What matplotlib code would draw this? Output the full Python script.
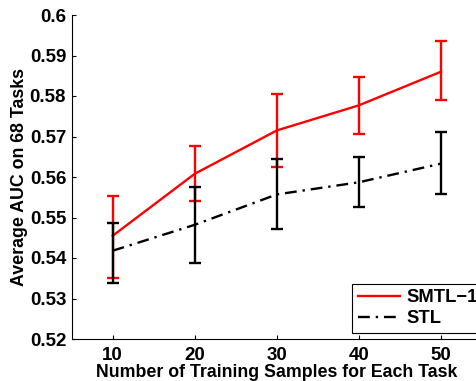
import matplotlib
matplotlib.use("Agg")
import matplotlib.pyplot as plt
import numpy as np
from matplotlib.lines import Line2D

plt.rcParams['font.family'] = ['Liberation Sans', 'DejaVu Sans']
plt.rcParams['font.weight'] = 'bold'

samples = [10, 20, 30, 40, 50]
smtl_mean = [0.5455, 0.5608, 0.5715, 0.5777, 0.5860]
smtl_low = [0.5350, 0.5540, 0.5625, 0.5707, 0.5790]
smtl_high = [0.5554, 0.5676, 0.5804, 0.5847, 0.5936]
stl_mean = [0.5418, 0.5482, 0.5557, 0.5587, 0.5633]
stl_low = [0.5338, 0.5388, 0.5472, 0.5526, 0.5557]
stl_high = [0.5486, 0.5575, 0.5645, 0.5649, 0.5710]
yticks = [0.52, 0.53, 0.54, 0.55, 0.56, 0.57, 0.58, 0.59, 0.6]
ytick_labels = ['0.52', '0.53', '0.54', '0.55', '0.56', '0.57', '0.58', '0.59', '0.6']

W, H = 476, 381
fig = plt.figure(figsize=(W / 100, H / 100), dpi=100)
ax = fig.add_axes([71.7 / W, 1 - 339 / H, (482 - 71.7) / W, (339 - 15) / H])

def errs(mean, low, high):
    m = np.array(mean)
    return np.vstack([m - np.array(low), np.array(high) - m])

dash = (0, (5, 2.5, 1, 2.5))
ax.errorbar(samples, smtl_mean, yerr=errs(smtl_mean, smtl_low, smtl_high),
            color='#ff0000', lw=1.7, elinewidth=1.7, capsize=4, capthick=1.7,
            label='SMTL\u22121', zorder=3)
ax.errorbar(samples, stl_mean, yerr=errs(stl_mean, stl_low, stl_high),
            color='black', lw=1.7, elinewidth=1.7, capsize=4, capthick=1.7,
            linestyle=dash, label='STL', zorder=4)

ax.set_xlim(5, 55)
ax.set_ylim(0.52, 0.6)
ax.set_xticks(samples)
ax.set_yticks(yticks)
ax.set_yticklabels(ytick_labels)
ax.tick_params(direction='in', length=3, width=0.8, labelsize=13.5)
ax.tick_params(axis='x', pad=6)
ax.tick_params(axis='y', pad=4)
for lab in ax.get_xticklabels() + ax.get_yticklabels():
    lab.set_fontweight('bold')
ax.spines['top'].set_visible(False)
ax.spines['right'].set_visible(False)
for s in ['left', 'bottom']:
    ax.spines[s].set_linewidth(0.8)

ax.set_xlabel('Number of Training Samples for Each Task', fontsize=12.8, fontweight='bold', labelpad=0)
ax.set_ylabel('Average AUC on 68 Tasks', fontsize=12.8, fontweight='bold', labelpad=1)

h1 = Line2D([], [], color='#ff0000', lw=1.7)
h2 = Line2D([], [], color='black', lw=1.7, linestyle=dash)
leg = fig.legend([h1, h2], ['SMTL\u22121', 'STL'], loc='upper left',
                 bbox_to_anchor=(352 / W, 1 - 284 / H), bbox_transform=fig.transFigure,
                 fancybox=False, edgecolor='black', framealpha=1,
                 prop={'weight': 'bold', 'size': 13.2}, handlelength=2.3,
                 handletextpad=0.35, borderpad=0.3, labelspacing=0.2, borderaxespad=0)
leg.get_frame().set_linewidth(0.8)

fig.savefig('out.png', dpi=100)
